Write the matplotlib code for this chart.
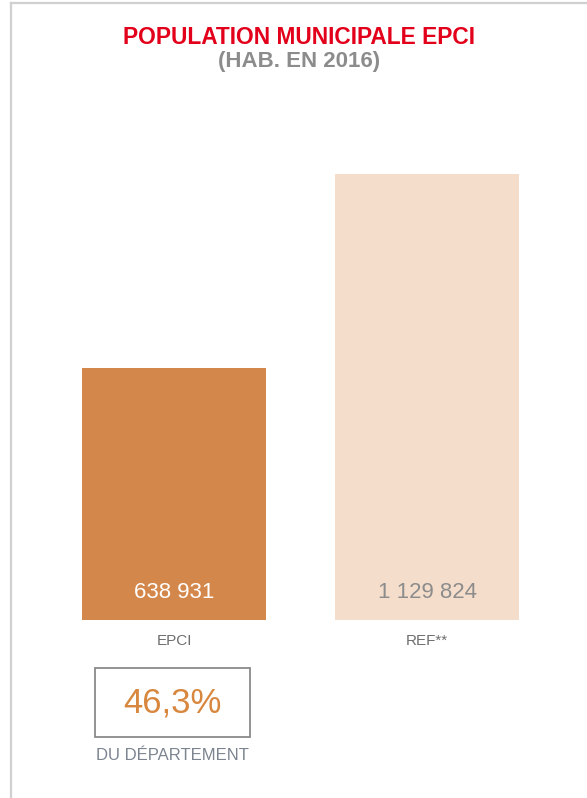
import matplotlib
matplotlib.use("Agg")
import matplotlib.pyplot as plt
from matplotlib.lines import Line2D
from matplotlib.patches import Rectangle

plt.rcParams['font.family'] = ['Liberation Sans', 'DejaVu Sans']

# data
categories = ['EPCI', 'REF**']
values = [638931, 1129824]
bar_colors = ['#d4874a', '#f5ddcb']
value_colors = ['#ffffff', '#8c8c8c']
part_departement = 46.3

title = 'POPULATION MUNICIPALE EPCI'
subtitle = '(HAB. EN 2016)'

W, H = 587, 798
fig = plt.figure(figsize=(W / 100, H / 100), dpi=100)
fig.patch.set_facecolor('white')

# frame lines (left + top) like the card border
fig.add_artist(Line2D([11 / W, 11 / W], [0, 1 - 3 / H], color='#d0d0d0', lw=1.6))
fig.add_artist(Line2D([11 / W, 1], [1 - 3 / H, 1 - 3 / H], color='#d0d0d0', lw=1.6))

# axes: baseline at y=620px, top of largest bar at y=174px
ax = fig.add_axes([0, (H - 620) / H, 1, 446 / H])
x = list(range(len(categories)))
ax.bar(x, values, width=184 / 253, color=bar_colors)
ax.set_xlim(-174 / 253, (W - 174) / 253)
ax.set_ylim(0, max(values))
ax.axis('off')

for i, v in enumerate(values):
    lab = f"{v:,}".replace(",", " ")
    ax.annotate(lab, (i, 0), xytext=(0, 19.5), textcoords='offset points',
                ha='center', va='center', fontsize=16, color=value_colors[i])
    ax.annotate(categories[i], (i, 0), xytext=(0, -15), textcoords='offset points',
                ha='center', va='center', fontsize=11, color='#6e6e6e')

# titles
fig.text(299 / W, 1 - 37 / H, title, ha='center', va='center', fontsize=16.4,
         fontweight='bold', color='#e3001b')
fig.text(299 / W, 1 - 62 / H, subtitle, ha='center', va='center', fontsize=16,
         fontweight='bold', color='#8c8c8c')

# share of departement box
fig.add_artist(Rectangle((95 / W, 1 - 737 / H), 155 / W, 69 / H, transform=fig.transFigure,
                         fill=False, edgecolor='#8a8a8a', lw=1.3))
fig.text(172 / W, 1 - 703 / H, f"{part_departement:.1f}%".replace('.', ','),
         ha='center', va='center', fontsize=25, color='#d8873f')
fig.text(172 / W, 1 - 756 / H, 'DU DÉPARTEMENT', ha='center', va='center',
         fontsize=12, color='#7c8490')

fig.savefig('out.png', dpi=100)
